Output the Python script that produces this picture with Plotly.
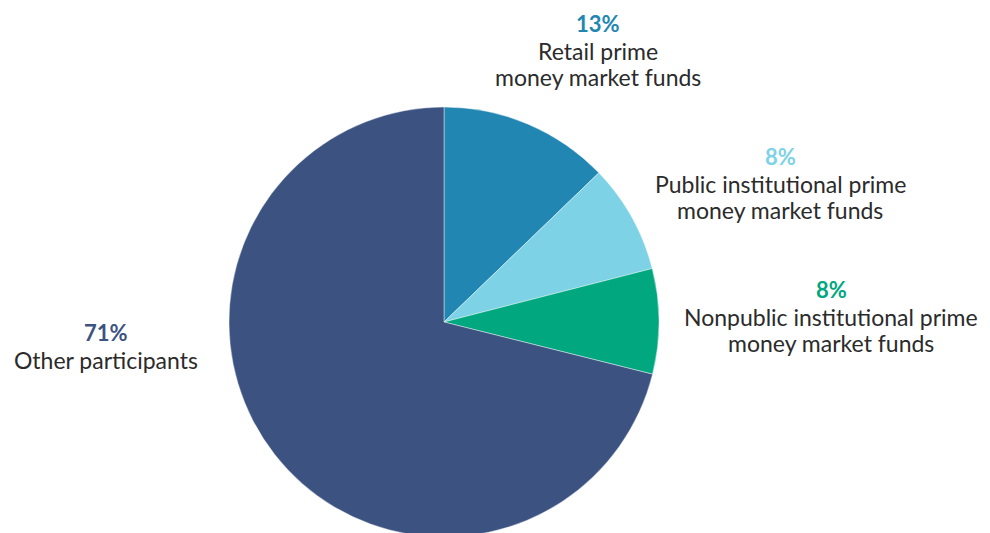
import plotly.graph_objects as go

# Data
categories = ["Retail prime money market funds",
              "Public institutional prime money market funds",
              "Nonpublic institutional prime money market funds",
              "Other participants"]
shares = [12.8, 8.2, 7.9, 71.1]
label_lines = [["Retail prime", "money market funds"],
               ["Public institutional prime", "money market funds"],
               ["Nonpublic institutional prime", "money market funds"],
               ["Other participants"]]

# Styles / layout
colors = ["#2286b2", "#7dd2e6", "#00a77f", "#3c5382"]
text_color = "#2b2b2b"
FONT = "Lato, 'Open Sans', sans-serif"
W, H = 990, 533
OFF = 8  # page body margin
# label block anchors in window pixels: (center x, y of percent line)
anchors = [(598, 23), (780, 156), (831, 289), (106, 332)]
pct_gap = 28
line_gap = 26
# pie in window pixels
CX, CY, R = 444, 322, 215

fig = go.Figure()
fig.add_trace(go.Pie(
    labels=categories, values=shares, sort=False, direction="clockwise",
    rotation=0, textinfo="none", hoverinfo="label+percent",
    marker=dict(colors=colors, line=dict(color="rgba(255,255,255,0.7)", width=0.6)),
    domain=dict(x=[(CX - R - OFF) / W, (CX + R - OFF) / W],
                y=[1 - (CY + R - OFF) / H, 1 - (CY - R - OFF) / H]),
    showlegend=False,
))

def px(x, y):
    return (x - OFF) / W, 1 - (y - OFF) / H

annotations = []
for i, (cx, cy) in enumerate(anchors):
    x, y = px(cx, cy)
    annotations.append(dict(x=x, y=y, xref="paper", yref="paper", xanchor="center", yanchor="middle",
                            showarrow=False, text=f"<b>{round(shares[i])}%</b>",
                            font=dict(family=FONT, size=22, color=colors[i])))
    for j, line in enumerate(label_lines[i]):
        x, y = px(cx, cy + pct_gap + j * line_gap)
        annotations.append(dict(x=x, y=y, xref="paper", yref="paper", xanchor="center", yanchor="middle",
                                showarrow=False, text=line,
                                font=dict(family=FONT, size=23, color=text_color)))

fig.update_layout(width=W, height=H, margin=dict(l=0, r=0, t=0, b=0),
                  paper_bgcolor="white", plot_bgcolor="white",
                  annotations=annotations)
fig.write_html("out.html")
